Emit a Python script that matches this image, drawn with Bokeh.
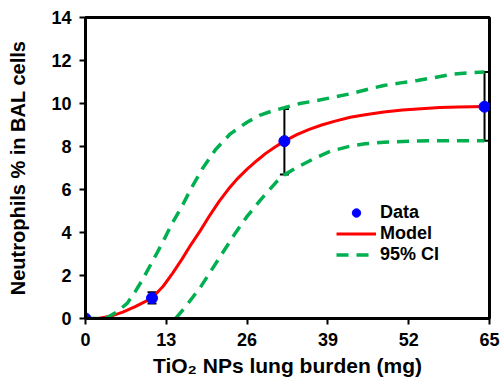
from bokeh.plotting import figure
from bokeh.models import (ColumnDataSource, Whisker, TeeHead, Legend, LegendItem,
                          FixedTicker, Range1d)
from bokeh.embed import file_html
from bokeh.resources import INLINE

# ---- data ----
data_x = [0, 10.7, 32.0, 64.2]
data_y = [0, 0.95, 8.25, 9.85]
err_lo = [0, 0.70, 6.70, 8.27]
err_hi = [0, 1.22, 9.75, 11.46]

model_x = [0, 2, 4, 6, 8, 10.7, 12.5, 14, 15.5, 17, 18.5, 20, 21.5, 23, 24.5, 26, 27.6,
           29, 30.5, 32, 34, 36, 38, 40, 42.6, 45, 48, 51, 54, 57, 60, 64.2]
model_y = [0, 0, 0.1, 0.3, 0.55, 0.95, 1.5, 2.1, 2.75, 3.45, 4.1, 4.8, 5.45, 6.02, 6.52, 6.95, 7.35,
           7.68, 7.98, 8.25, 8.55, 8.8, 9.0, 9.17, 9.36, 9.48, 9.6, 9.7, 9.76, 9.81, 9.84, 9.86]

ci_hi_x = [0, 3.2, 5, 6.7, 8, 9.1, 10.7, 12.3, 13.9, 15.6, 16.9, 18.8, 20.9, 23.3, 26,
           28, 30, 32, 34.5, 37.3, 40, 42.6, 45.3, 48, 50.7, 53.4, 56, 58.7, 61.4, 64.2]
ci_hi_y = [0, 0, 0.3, 0.7, 1.25, 1.77, 2.62, 3.47, 4.4, 5.26, 6.0, 6.96, 7.85, 8.59, 9.13,
           9.45, 9.65, 9.8, 10.0, 10.14, 10.3, 10.45, 10.65, 10.84, 10.96, 11.07, 11.2, 11.35, 11.42, 11.46]

ci_lo_x = [14.5, 16.1, 18.5, 20.4, 22.3, 24.1, 26, 28.2, 30.8, 32, 34.1, 36.7, 39.4,
           42.6, 45, 48, 53.4, 58, 64.2]
ci_lo_y = [0, 0.55, 1.46, 2.31, 3.16, 3.97, 4.75, 5.53, 6.38, 6.68, 7.04, 7.43, 7.78,
           8.02, 8.13, 8.2, 8.26, 8.27, 8.27]

x_ticks = [0, 13, 26, 39, 52, 65]
y_ticks = [0, 2, 4, 6, 8, 10, 12, 14]

FONT = "Liberation Sans"

p = figure(width=500, height=383, output_backend="svg", toolbar_location=None,
           x_range=Range1d(0, 65), y_range=Range1d(0, 14),
           min_border_left=85, min_border_top=17, min_border_right=11, min_border_bottom=65)
p.grid.visible = False
p.outline_line_color = "black"
p.outline_line_width = 3

for ax in (p.xaxis[0], p.yaxis[0]):
    ax.axis_line_width = 3
    ax.major_tick_line_width = 2
    ax.major_tick_out = 6
    ax.major_tick_in = 0
    ax.minor_tick_line_color = None
    ax.major_label_text_font = FONT
    ax.major_label_text_font_style = "bold"
    ax.major_label_text_font_size = "18px"
    ax.major_label_text_color = "black"
    ax.axis_label_text_font = FONT
    ax.axis_label_text_font_style = "bold"
    ax.axis_label_text_color = "black"

p.xaxis.axis_label_text_font_size = "21px"
p.yaxis.axis_label_text_font_size = "20px"
p.xaxis.ticker = FixedTicker(ticks=x_ticks)
p.yaxis.ticker = FixedTicker(ticks=y_ticks)
p.xaxis.major_label_standoff = 8
p.yaxis.major_label_standoff = 8
p.xaxis.axis_label = "TiO\u2082 NPs lung burden (mg)"
p.yaxis.axis_label = "Neutrophils % in BAL cells"
p.xaxis.axis_label_standoff = 5
p.yaxis.axis_label_standoff = 19

r_model = p.line(model_x, model_y, line_color="#FF0000", line_width=3)
r_hi = p.line(ci_hi_x, ci_hi_y, line_color="#00B050", line_width=3.5, line_dash="12 8")
r_lo = p.line(ci_lo_x, ci_lo_y, line_color="#00B050", line_width=3.5, line_dash="12 8")

src = ColumnDataSource(dict(x=data_x, y=data_y, lo=err_lo, hi=err_hi))
wh = Whisker(source=src, base="x", lower="lo", upper="hi", line_color="black", line_width=2,
             upper_head=TeeHead(size=9, line_width=2, line_color="black"),
             lower_head=TeeHead(size=9, line_width=2, line_color="black"))
p.add_layout(wh)
r_data = p.scatter(x="x", y="y", source=src, size=11, fill_color="#0000FF", line_color="#0000FF")

legend = Legend(items=[LegendItem(label="Data", renderers=[r_data]),
                       LegendItem(label="Model", renderers=[r_model]),
                       LegendItem(label="95% CI", renderers=[r_hi])],
                location=(251, 53), orientation="vertical",
                glyph_width=40, glyph_height=21, label_standoff=4, spacing=0, padding=0,
                border_line_color=None, background_fill_alpha=0,
                label_text_font=FONT, label_text_font_style="bold",
                label_text_font_size="18px", label_text_color="black",
                label_height=21)
p.add_layout(legend)

open("out.html", "w").write(file_html(p, INLINE))
